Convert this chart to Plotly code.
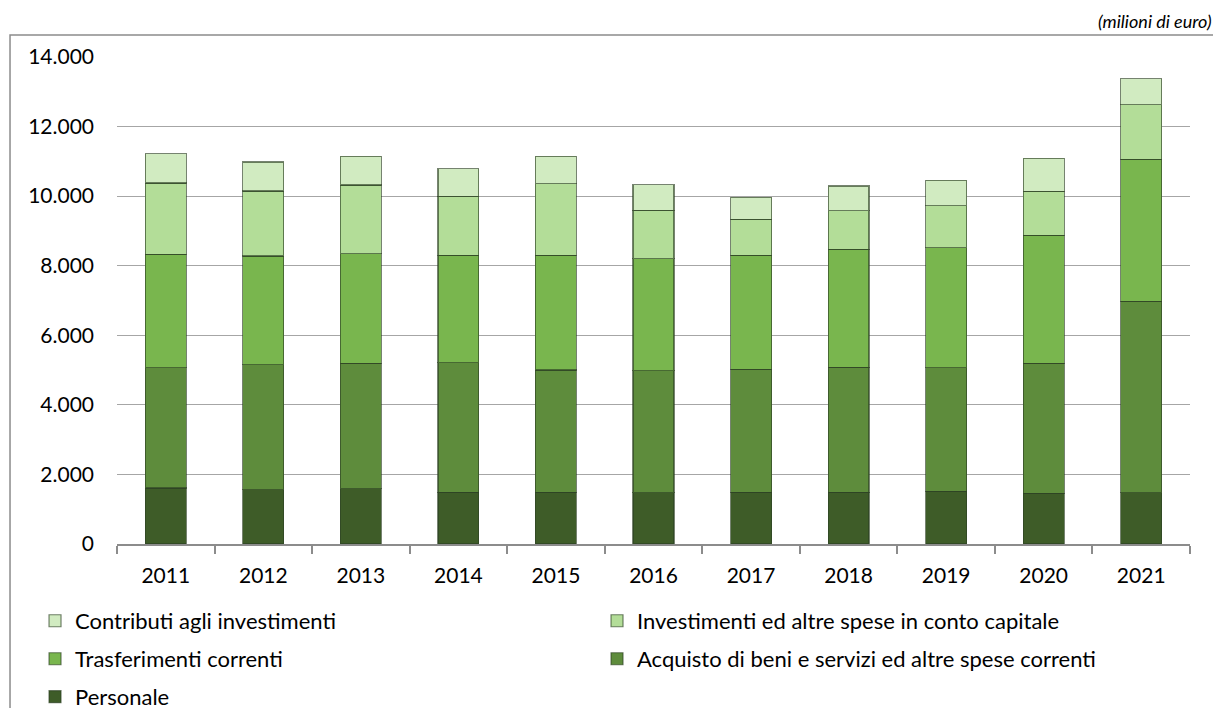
import plotly.graph_objects as go

# ── Data (milioni di euro) ──
YEARS = ["2011", "2012", "2013", "2014", "2015", "2016", "2017", "2018", "2019", "2020", "2021"]

PERSONALE = [1610, 1560, 1590, 1490, 1490, 1470, 1490, 1490, 1510, 1460, 1480]
ACQUISTO = [3460, 3600, 3610, 3720, 3510, 3510, 3530, 3590, 3560, 3730, 5500]
TRASFERIMENTI = [3260, 3120, 3140, 3090, 3300, 3220, 3280, 3390, 3450, 3690, 4080]
INVESTIMENTI = [2050, 1870, 1980, 1700, 2060, 1390, 1030, 1110, 1210, 1260, 1570]
CONTRIBUTI = [840, 830, 830, 790, 790, 740, 640, 710, 720, 950, 750]

Y_TICKS = [0, 2000, 4000, 6000, 8000, 10000, 12000, 14000]

FONT = "Lato"
GRID = "#a6a6a6"
AXIS = "#8c8c8c"

# name, values, colour, legend row (one legend per row), rank inside row
series = [
    ("Personale", PERSONALE, "#3e5c28", "legend3", 1),
    ("Acquisto di beni e servizi ed altre spese correnti", ACQUISTO, "#5e8c3c", "legend2", 2),
    ("Trasferimenti correnti", TRASFERIMENTI, "#79b64e", "legend2", 1),
    ("Investimenti ed altre spese in conto capitale", INVESTIMENTI, "#b3dd98", "legend", 2),
    ("Contributi agli investimenti", CONTRIBUTI, "#d1ebc1", "legend", 1),
]

fig = go.Figure()

for name, vals, color, leg, rank in series:
    fig.add_trace(go.Bar(
        x=YEARS, y=vals,
        name=name,
        marker=dict(color=color, line=dict(color="rgba(45,65,35,0.65)", width=1.2)),
        legend=leg,
        legendrank=rank,
    ))

# outer frame of the chart area
fig.add_shape(
    type="rect", xref="paper", yref="paper",
    x0=-0.0997, x1=1.026, y0=-0.7, y1=1.045,
    line=dict(color="#8c8c8c", width=1.5),
    fillcolor="rgba(0,0,0,0)", layer="below",
)

fig.add_annotation(
    text="<i>(milioni di euro)</i>",
    xref="paper", yref="paper", x=1.0225, y=1.1,
    xanchor="right", yanchor="top", showarrow=False,
    font=dict(family=FONT, size=18, color="black"),
)

legend_common = dict(
    orientation="h",
    x=-0.0764, xanchor="left", yanchor="middle",
    entrywidth=517, entrywidthmode="pixels",
    traceorder="normal",
    font=dict(family=FONT, size=22),
    bgcolor="rgba(0,0,0,0)",
)

fig.update_layout(
    width=1213, height=740,
    barmode="stack",
    bargap=0.58,
    separators=",.",
    font=dict(family=FONT, size=21, color="black"),
    plot_bgcolor="white", paper_bgcolor="white",
    margin=dict(l=109, r=31, t=49, b=204),
    xaxis=dict(
        type="category",
        showline=True, linecolor=AXIS, linewidth=1.5,
        ticks="outside", tickson="boundaries", ticklen=8, tickcolor=AXIS, tickwidth=1.5,
        showgrid=False,
        ticklabelstandoff=12,
        tickfont=dict(family=FONT, size=21),
    ),
    yaxis=dict(
        range=[0, 14000],
        tickvals=Y_TICKS, tickformat=",d",
        showgrid=True, gridcolor=GRID, gridwidth=1,
        showline=False, zeroline=False,
        ticklabelstandoff=22,
        tickfont=dict(family=FONT, size=21),
    ),
    legend=dict(legend_common, y=-0.158),
    legend2=dict(legend_common, y=-0.236),
    legend3=dict(legend_common, y=-0.314),
)

fig.write_html("out.html")
